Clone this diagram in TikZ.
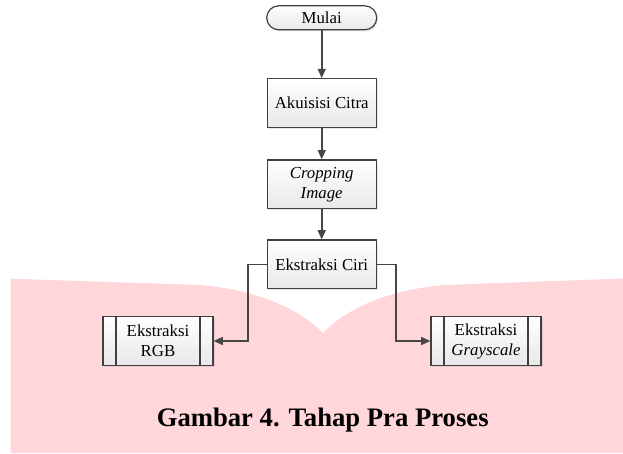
\documentclass[tikz,border=0pt]{standalone}
\usepackage{fontspec}
\setmainfont{Liberation Serif}
\usetikzlibrary{positioning,shadows,arrows.meta,calc}
\definecolor{pinkbg}{RGB}{255,214,218}
\definecolor{boxline}{RGB}{64,64,64}
\definecolor{flowline}{RGB}{70,70,70}
\tikzset{box/.style={rectangle, draw=boxline, line width=0.9pt,
    top color=white, bottom color=black!9,
    drop shadow={shadow xshift=1.2pt, shadow yshift=-1.2pt, opacity=0.18},
    text centered, align=center, minimum width=81.75pt, minimum height=36.5pt,
    font=\rmfamily\fontsize{12.6}{15}\selectfont},
  startbox/.style={box, rounded corners=9pt, minimum height=18pt, inner sep=0pt},
  subproc/.style={box, minimum width=82.5pt, path picture={
      \draw[boxline, line width=0.9pt]
        ([xshift=9.75pt]path picture bounding box.north west) --
        ([xshift=9.75pt]path picture bounding box.south west)
        ([xshift=-9.75pt]path picture bounding box.north east) --
        ([xshift=-9.75pt]path picture bounding box.south east);}},
  myarrow/.style={-{Triangle[length=7pt,width=6pt]}, draw=flowline, line width=1.2pt},
  caption/.style={font=\rmfamily\fontsize{20}{24}\selectfont\bfseries, anchor=base}
}

\begin{document}
\begin{tikzpicture}[x=0.75pt, y=-0.75pt]
  \useasboundingbox (0,0) rectangle (623,453);

  %open book background
  \fill[pinkbg] (10.7,278.7) -- (200,285)
     .. controls (260,290) and (300,310) .. (323,333)
     .. controls (345,310) and (385,290) .. (445,285)
     -- (623,278.5) -- (623,453) -- (10.7,453) -- cycle;

  %Start node
  \node (mulai) [startbox, minimum width=82.5pt] at (321.7,17.8) {Mulai};
  %Acquisition node
  \node (akuisisi) [box, below=35.8pt of mulai] {Akuisisi Citra};
  %Cropping node
  \node (cropping) [box, below=23.5pt of akuisisi] {\textit{Cropping}\\\textit{Image}};
  %Feature node
  \node (ciri) [box, below=22.7pt of cropping] {Ekstraksi Ciri};
  %RGB node
  \node (rgb) [subproc] at (158,341) {Ekstraksi\\RGB};
  %Grayscale node
  \node (gray) [subproc] at (486,341) {Ekstraksi\\\textit{Grayscale}};

  \draw [myarrow] (mulai) -- (akuisisi);
  \draw [myarrow] (akuisisi) -- (cropping);
  \draw [myarrow] (cropping) -- (ciri);
  \draw [myarrow] (ciri.west) -- ++(-18.7,0) |- (rgb.east);
  \draw [myarrow] (ciri.east) -- ++(19,0) |- (gray.west);

  \node (judul) [caption] at (322.7,426.7) {Gambar 4. Tahap Pra Proses};
\end{tikzpicture}
\end{document}
